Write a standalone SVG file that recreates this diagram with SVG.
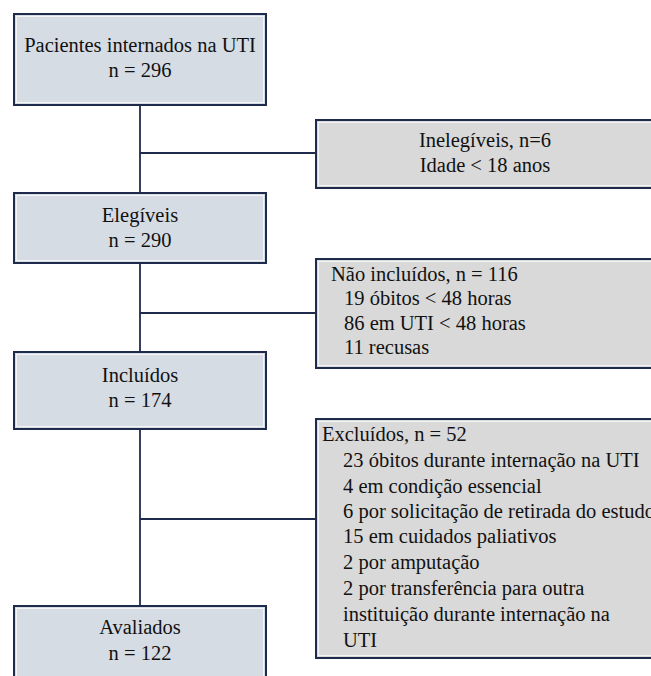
<svg xmlns="http://www.w3.org/2000/svg" width="651" height="676" viewBox="0 0 651 676">
<style>
.bl{fill:#d6dce4;stroke:#1f2b4d;stroke-width:2}
.bg{fill:#d9d9d9;stroke:#1f2b4d;stroke-width:2}
.in{fill:none;stroke:#f4f4f4;stroke-width:1}
.ln{stroke:#1f2b4d;stroke-width:1.8;fill:none}
text{font-family:"Liberation Serif","Times New Roman",serif;font-size:20.5px;fill:#111}
.c{text-anchor:middle}
</style>
<rect width="651" height="676" fill="#ffffff"/>
<g id="connectors">
<line class="ln" x1="140" y1="105" x2="140" y2="194"/>
<line class="ln" x1="140" y1="263" x2="140" y2="353"/>
<line class="ln" x1="140" y1="429" x2="140" y2="607"/>
<line class="ln" x1="140" y1="153" x2="316" y2="153"/>
<line class="ln" x1="140" y1="313" x2="316" y2="313"/>
<line class="ln" x1="140" y1="519" x2="316" y2="519"/>
</g>
<g id="pacientes">
<rect class="bl" x="14" y="14" width="252" height="91"/>
<rect class="in" x="16.5" y="16.5" width="247" height="86"/>
<text class="c" x="140" y="52">Pacientes internados na UTI</text>
<text class="c" x="140" y="77">n = 296</text>
</g>
<g id="inelegiveis">
<rect class="bg" x="316" y="120" width="345" height="68"/>
<rect class="in" x="318.5" y="122.5" width="340" height="63"/>
<text class="c" x="485" y="147">Inelegíveis, n=6</text>
<text class="c" x="485" y="172">Idade &lt; 18 anos</text>
</g>
<g id="elegiveis">
<rect class="bl" x="14" y="193" width="252" height="70"/>
<rect class="in" x="16.5" y="195.5" width="247" height="65"/>
<text class="c" x="140" y="222">Elegíveis</text>
<text class="c" x="140" y="247">n = 290</text>
</g>
<g id="naoincluidos">
<rect class="bg" x="316" y="259" width="345" height="109"/>
<rect class="in" x="318.5" y="261.5" width="340" height="104"/>
<text x="331" y="281">Não incluídos, n = 116</text>
<text x="344" y="305">19 óbitos &lt; 48 horas</text>
<text x="344" y="330">86 em UTI &lt; 48 horas</text>
<text x="344" y="354">11 recusas</text>
</g>
<g id="incluidos">
<rect class="bl" x="14" y="352" width="252" height="77"/>
<rect class="in" x="16.5" y="354.5" width="247" height="72"/>
<text class="c" x="140" y="382">Incluídos</text>
<text class="c" x="140" y="407">n = 174</text>
</g>
<g id="excluidos">
<rect class="bg" x="316" y="419" width="345" height="239"/>
<rect class="in" x="318.5" y="421.5" width="340" height="234"/>
<text x="322" y="441">Excluídos, n = 52</text>
<text x="343" y="467">23 óbitos durante internação na UTI</text>
<text x="343" y="493">4 em condição essencial</text>
<text x="343" y="518">6 por solicitação de retirada do estudo</text>
<text x="343" y="543">15 em cuidados paliativos</text>
<text x="343" y="569">2 por amputação</text>
<text x="343" y="595">2 por transferência para outra</text>
<text x="343" y="621">instituição durante internação na</text>
<text x="343" y="647">UTI</text>
</g>
<g id="avaliados">
<rect class="bl" x="14" y="606" width="252" height="80"/>
<rect class="in" x="16.5" y="608.5" width="247" height="75"/>
<text class="c" x="140" y="634">Avaliados</text>
<text class="c" x="140" y="660">n = 122</text>
</g>
</svg>
